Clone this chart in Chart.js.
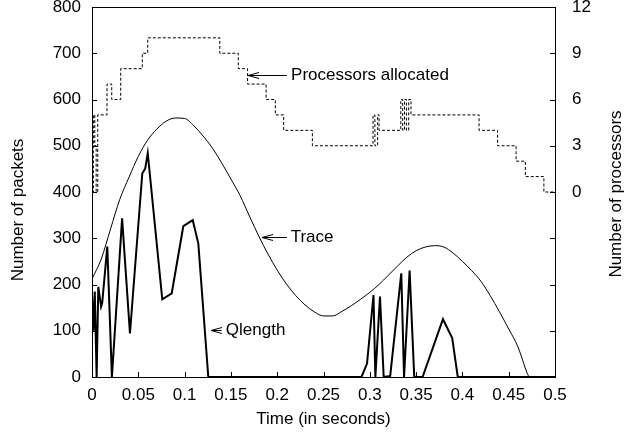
<!DOCTYPE html>
<html>
<head>
<meta charset="utf-8">
<script src="https://cdn.jsdelivr.net/npm/chart.js@4.4.0/dist/chart.umd.min.js"></script>
<style>
  body { margin: 0; background: #fff; }
  #wrap { width: 638px; height: 433px; }
</style>
</head>
<body>
<div id="wrap"><canvas id="qChart"></canvas></div>
<script>
// values (time in seconds)
const traceTimes = [0, 0.01, 0.02, 0.03, 0.04, 0.05, 0.06, 0.07, 0.08, 0.09,
  0.10, 0.11, 0.12, 0.13, 0.14, 0.15, 0.16, 0.17, 0.18, 0.19,
  0.20, 0.21, 0.22, 0.23, 0.24, 0.25, 0.26, 0.27, 0.28, 0.29,
  0.30, 0.31, 0.32, 0.33, 0.34, 0.35, 0.36, 0.37, 0.38, 0.39,
  0.40, 0.41, 0.42, 0.43, 0.44, 0.45, 0.46, 0.47, 0.472];
const tracePackets = [212, 255, 320, 384, 432, 477, 512, 536, 553, 560,
  559, 543, 521, 495, 463, 428, 392, 348, 305, 266,
  231, 201, 176, 156, 141, 132, 132, 142, 154, 168,
  183, 200, 220, 240, 259, 273, 281, 284, 281, 268,
  250, 230, 207, 176, 141, 104, 65, 8, 0];

const qTimes = [0, 0.0015, 0.003, 0.005, 0.0068, 0.0098, 0.011, 0.0165, 0.0215, 0.0325,
  0.041, 0.0543, 0.0575, 0.0602, 0.0759, 0.0861, 0.0986, 0.1088, 0.1148, 0.1256,
  0.291, 0.297, 0.304, 0.306, 0.311, 0.315, 0.322, 0.334, 0.337, 0.343,
  0.348, 0.357, 0.379, 0.389, 0.395, 0.5];
const qPackets = [180, 100, 185, 0, 195, 152, 160, 282, 0, 343,
  94, 440, 451, 484, 168, 181, 326, 339, 289, 0,
  0, 29, 177, 0, 174, 0, 2, 224, 0, 230,
  0, 0, 125, 84, 0, 0];

const procTimes = [0, 0.0015, 0.003, 0.0045, 0.0062, 0.0162, 0.0213, 0.031, 0.0543, 0.0602,
  0.138, 0.158, 0.168, 0.188, 0.198, 0.207, 0.238, 0.3035, 0.3055, 0.3085,
  0.31, 0.3335, 0.3355, 0.3375, 0.3395, 0.342, 0.3445, 0.418, 0.438, 0.458,
  0.468, 0.488, 0.5];
const procCounts = [0, 5, 3, 0, 5, 7, 6, 8, 9, 10,
  9, 8, 7, 6, 5, 4, 3, 5, 3, 5,
  4, 6, 4, 6, 4, 6, 5, 4, 3, 2,
  1, 0, 0];

const xTicks = [0, 0.05, 0.1, 0.15, 0.2, 0.25, 0.3, 0.35, 0.4, 0.45, 0.5];

function pts(xs, ys) {
  return xs.map((t, i) => ({x: t, y: ys[i]}));
}

const FONT = "'Liberation Sans', Arial, sans-serif";
Chart.defaults.font.family = FONT;
Chart.defaults.font.size = 17;
Chart.defaults.color = '#000';

// inner tick marks, frame, y titles and the arrow labels
const decor = {
  id: 'decor',
  afterDraw(chart) {
    const ctx = chart.ctx, a = chart.chartArea;
    const x = chart.scales.x, y = chart.scales.y, y2 = chart.scales.y2;
    const r = v => Math.round(v) + 0.5;
    ctx.save();
    ctx.strokeStyle = '#000';
    ctx.lineWidth = 1;
    ctx.beginPath();
    x.ticks.forEach(t => {
      const px = r(x.getPixelForValue(t.value));
      ctx.moveTo(px, a.bottom); ctx.lineTo(px, a.bottom - 5);
    });
    y.ticks.forEach(t => {
      const py = r(y.getPixelForValue(t.value));
      ctx.moveTo(a.left, py); ctx.lineTo(a.left + 5, py);
    });
    y2.ticks.forEach(t => {
      const py = r(y2.getPixelForValue(t.value));
      ctx.moveTo(a.right, py); ctx.lineTo(a.right - 5, py);
    });
    ctx.stroke();
    ctx.strokeRect(r(a.left), r(a.top), Math.round(a.right - a.left), Math.round(a.bottom - a.top));

    ctx.font = '17px ' + FONT;
    ctx.fillStyle = '#000';
    ctx.textAlign = 'center';
    ctx.textBaseline = 'middle';
    [[18.5, 210, 'Number of packets'], [616, 194, 'Number of processors']].forEach(d => {
      ctx.save();
      ctx.translate(d[0], d[1]);
      ctx.rotate(-Math.PI / 2);
      ctx.fillText(d[2], 0, 0);
      ctx.restore();
    });

    const notes = [
      {text: 'Processors allocated', tip: 0.1685, tail: 0.2106, at: 0.215, v: 653},
      {text: 'Trace', tip: 0.1836, tail: 0.2106, at: 0.2145, v: 303},
      {text: 'Qlength', tip: 0.1285, tail: 0.14, at: 0.1445, v: 102}
    ];
    ctx.textAlign = 'left';
    notes.forEach(n => {
      const py = r(y.getPixelForValue(n.v));
      const x0 = x.getPixelForValue(n.tip), x1 = x.getPixelForValue(n.tail);
      ctx.beginPath();
      ctx.moveTo(x1, py); ctx.lineTo(x0, py);
      ctx.moveTo(x0 + 11, py - 3); ctx.lineTo(x0, py); ctx.lineTo(x0 + 11, py + 3);
      ctx.stroke();
      ctx.fillText(n.text, x.getPixelForValue(n.at), py);
    });
    ctx.restore();
  }
};

new Chart(document.getElementById('qChart'), {
  type: 'line',
  data: {
    datasets: [
      {
        label: 'Trace',
        data: pts(traceTimes, tracePackets),
        yAxisID: 'y',
        borderColor: '#000',
        borderWidth: 1,
        pointRadius: 0,
        cubicInterpolationMode: 'monotone'
      },
      {
        label: 'Processors allocated',
        data: pts(procTimes, procCounts),
        yAxisID: 'y2',
        borderColor: '#000',
        borderWidth: 1,
        borderDash: [3, 2],
        pointRadius: 0,
        stepped: true
      },
      {
        label: 'Qlength',
        data: pts(qTimes, qPackets),
        yAxisID: 'y',
        borderColor: '#000',
        borderWidth: 2,
        pointRadius: 0
      }
    ]
  },
  options: {
    responsive: true,
    maintainAspectRatio: false,
    animation: false,
    layout: {padding: {top: 7, left: 0, right: 0, bottom: 0}},
    plugins: {legend: {display: false}, tooltip: {enabled: false}},
    scales: {
      x: {
        type: 'linear', min: 0, max: 0.5,
        grid: {display: false, drawTicks: false},
        border: {display: false},
        afterBuildTicks: s => { s.ticks = xTicks.map(v => ({value: v})); },
        ticks: {padding: 8, maxRotation: 0, autoSkip: false, callback: v => String(+v.toFixed(2))},
        title: {display: true, text: 'Time (in seconds)', padding: {top: 0, bottom: 3}},
        afterFit: s => { s.height = 56; s.paddingLeft = 0; s.paddingRight = 0; }
      },
      y: {
        position: 'left', min: 0, max: 800,
        grid: {display: false, drawTicks: false},
        border: {display: false},
        ticks: {stepSize: 100, padding: 11},
        afterFit: s => { s.width = 92; s.paddingTop = 0; s.paddingBottom = 0; }
      },
      y2: {
        position: 'right', min: -12, max: 12,
        grid: {display: false, drawTicks: false},
        border: {display: false},
        ticks: {stepSize: 3, padding: 17, callback: v => (v >= 0 ? v : '')},
        afterFit: s => { s.width = 83; s.paddingTop = 0; s.paddingBottom = 0; }
      }
    }
  },
  plugins: [decor]
});
</script>
</body>
</html>
